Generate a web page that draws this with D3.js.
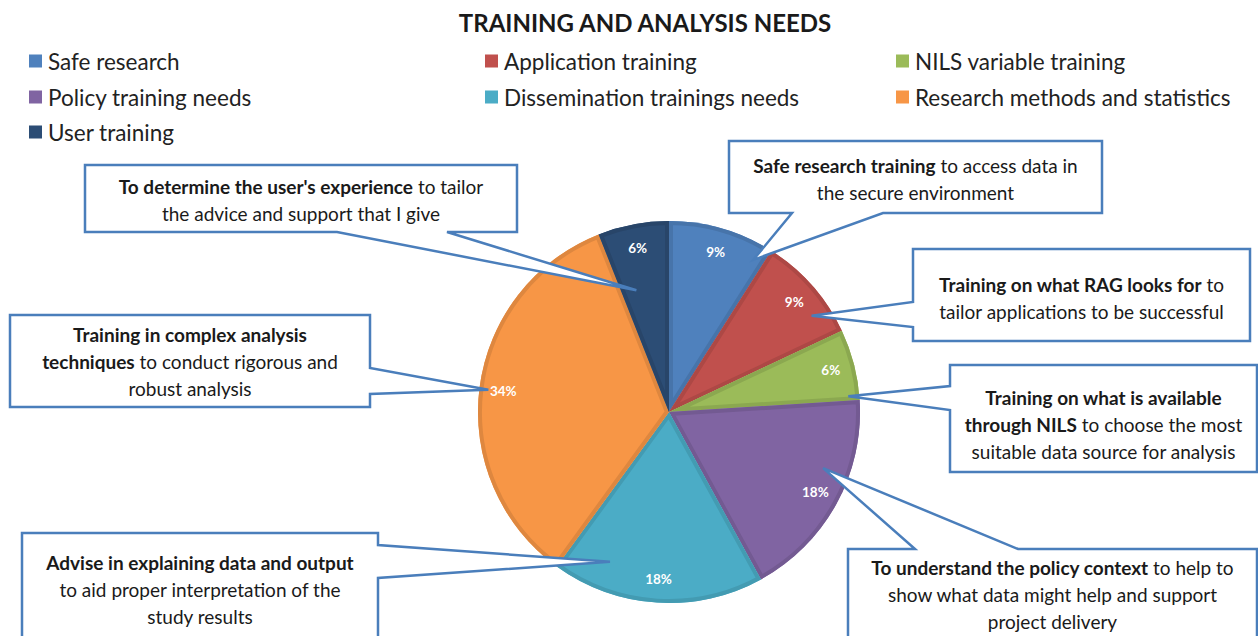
<!DOCTYPE html>
<html>
<head>
<meta charset="utf-8">
<script src="https://cdn.jsdelivr.net/npm/d3@7"></script>
<style>
  html, body { margin: 0; padding: 0; background: #ffffff; }
  svg { display: block; }
  text { font-family: Lato, "Open Sans", sans-serif; }
</style>
</head>
<body>
<svg id="chart" width="1258" height="636"></svg>
<script>
// ---------- data ----------
const title = "TRAINING AND ANALYSIS NEEDS";
const categories = [
  "Safe research",
  "Application training",
  "NILS variable training",
  "Policy training needs",
  "Dissemination trainings needs",
  "Research methods and statistics",
  "User training"
];
const values = [9, 9, 6, 18, 18, 34, 6];
const valueLabels = ["9%", "9%", "6%", "18%", "18%", "34%", "6%"];
const colors = ["#4f81bd", "#c0504d", "#9bbb59", "#8064a2", "#4bacc6", "#f79646", "#2c4d75"];

// callout texts: each line is a list of [text, bold] runs
const calloutTexts = [
  [[["Safe research training", true], [" to access data in", false]],
   [["the secure environment", false]]],
  [[["Training on what RAG looks for", true], [" to", false]],
   [["tailor applications to be successful", false]]],
  [[["Training on what is available", true]],
   [["through NILS", true], [" to choose the most", false]],
   [["suitable data source for analysis", false]]],
  [[["To understand the policy context", true], [" to help to", false]],
   [["show what data might help and support", false]],
   [["project delivery", false]]],
  [[["Advise in explaining data and output", true]],
   [["to aid proper interpretation of the", false]],
   [["study results", false]]],
  [[["Training in complex analysis", true]],
   [["techniques", true], [" to conduct rigorous and", false]],
   [["robust analysis", false]]],
  [[["To determine the user's experience", true], [" to tailor", false]],
   [["the advice and support that I give", false]]]
];

// ---------- layout ----------
const W = 1258, H = 636;
const cx = 669, cy = 412, R = 191;
const labelR = 167;
const legendCols = [29, 485, 896];
const legendRows = [61, 97, 132];

// callout boxes: [x0,y0,x1,y1], side of pointer, base extent along side, tip (angle deg, radius)
const calloutLayout = [
  {box: [729, 141, 1102, 213], side: "bottom", base: [792, 883], tip: [29, 174], firstLine: 165},
  {box: [913, 249, 1250, 341], side: "left",   base: [302, 327], tip: [56, 172], firstLine: 284},
  {box: [950, 365, 1257, 472], side: "left",   base: [386, 410], tip: [85, 180], firstLine: 397},
  {box: [848, 549, 1257, 645], side: "top",    base: [915, 1018], tip: [110, 164], firstLine: 567},
  {box: [22, 533, 378, 645],   side: "right",  base: [545, 578], tip: [201.5, 161], firstLine: 562},
  {box: [10, 315, 370, 407],   side: "right",  base: [368, 394], tip: [277, 182], firstLine: 334},
  {box: [85, 165, 517, 232],   side: "bottom", base: [337, 447], tip: [345, 126], firstLine: 186}
];
const lineGap = 27;

const svg = d3.select("#chart");

// ---------- title ----------
svg.append("text")
  .attr("x", 645).attr("y", 22)
  .attr("text-anchor", "middle").attr("dominant-baseline", "central")
  .style("font-size", "24px").style("font-weight", 700).style("fill", "#1a1a1a")
  .text(title);

// ---------- legend ----------
const legend = svg.append("g");
categories.forEach((c, i) => {
  const col = i % 3, row = Math.floor(i / 3);
  const g = legend.append("g").attr("transform", `translate(${legendCols[col]},${legendRows[row]})`);
  g.append("rect").attr("x", 0).attr("y", -6.5).attr("width", 13).attr("height", 13).attr("fill", colors[i]);
  g.append("text").attr("x", 19).attr("y", 0).attr("dominant-baseline", "central")
    .style("font-size", "22.5px").style("fill", "#222").text(c);
});

// ---------- pie ----------
const pie = d3.pie().sort(null).value(d => d);
const arcs = pie(values);
const arc = d3.arc().innerRadius(0).outerRadius(R);
const labelArc = d3.arc().innerRadius(labelR).outerRadius(labelR);

const defs = svg.append("defs");
const pg = svg.append("g").attr("transform", `translate(${cx},${cy})`);
arcs.forEach((a, i) => {
  defs.append("clipPath").attr("id", "clip" + i).append("path").attr("d", arc(a));
  pg.append("path").attr("d", arc(a)).attr("fill", colors[i]);
  pg.append("path").attr("d", arc(a))
    .attr("fill", "none")
    .attr("stroke", d3.color(colors[i]).darker(0.3))
    .attr("stroke-width", 8)
    .attr("stroke-linejoin", "round")
    .attr("clip-path", `url(#clip${i})`);
});

// ---------- callouts ----------
function calloutPath(L) {
  const [x0, y0, x1, y1] = L.box;
  const ang = L.tip[0] * Math.PI / 180;
  const tx = cx + L.tip[1] * Math.sin(ang), ty = cy - L.tip[1] * Math.cos(ang);
  const [a, b] = L.base;
  const p = d3.path();
  p.moveTo(x0, y0);
  if (L.side === "top") { p.lineTo(a, y0); p.lineTo(tx, ty); p.lineTo(b, y0); }
  p.lineTo(x1, y0);
  if (L.side === "right") { p.lineTo(x1, a); p.lineTo(tx, ty); p.lineTo(x1, b); }
  p.lineTo(x1, y1);
  if (L.side === "bottom") { p.lineTo(b, y1); p.lineTo(tx, ty); p.lineTo(a, y1); }
  p.lineTo(x0, y1);
  if (L.side === "left") { p.lineTo(x0, b); p.lineTo(tx, ty); p.lineTo(x0, a); }
  p.closePath();
  return p.toString();
}

const cg = svg.append("g");
calloutLayout.forEach((L, i) => {
  cg.append("path").attr("d", calloutPath(L))
    .attr("fill", "#ffffff").attr("stroke", "#4a7ebb").attr("stroke-width", 2.5)
    .attr("stroke-linejoin", "miter");
  const xc = (L.box[0] + L.box[2]) / 2;
  calloutTexts[i].forEach((line, j) => {
    const t = cg.append("text")
      .attr("x", xc).attr("y", L.firstLine + j * lineGap)
      .attr("text-anchor", "middle").attr("dominant-baseline", "central")
      .style("font-size", "19px").style("fill", "#1a1a1a");
    line.forEach(([s, bold]) => {
      t.append("tspan").style("font-weight", bold ? 700 : 400).text(s);
    });
  });
});

// ---------- pie value labels ----------
arcs.forEach((a, i) => {
  const [lx, ly] = labelArc.centroid(a);
  svg.append("text")
    .attr("x", cx + lx).attr("y", cy + ly)
    .attr("text-anchor", "middle").attr("dominant-baseline", "central")
    .style("font-size", "13.5px").style("font-weight", 700).style("fill", "#ffffff")
    .text(valueLabels[i]);
});
</script>
</body>
</html>
